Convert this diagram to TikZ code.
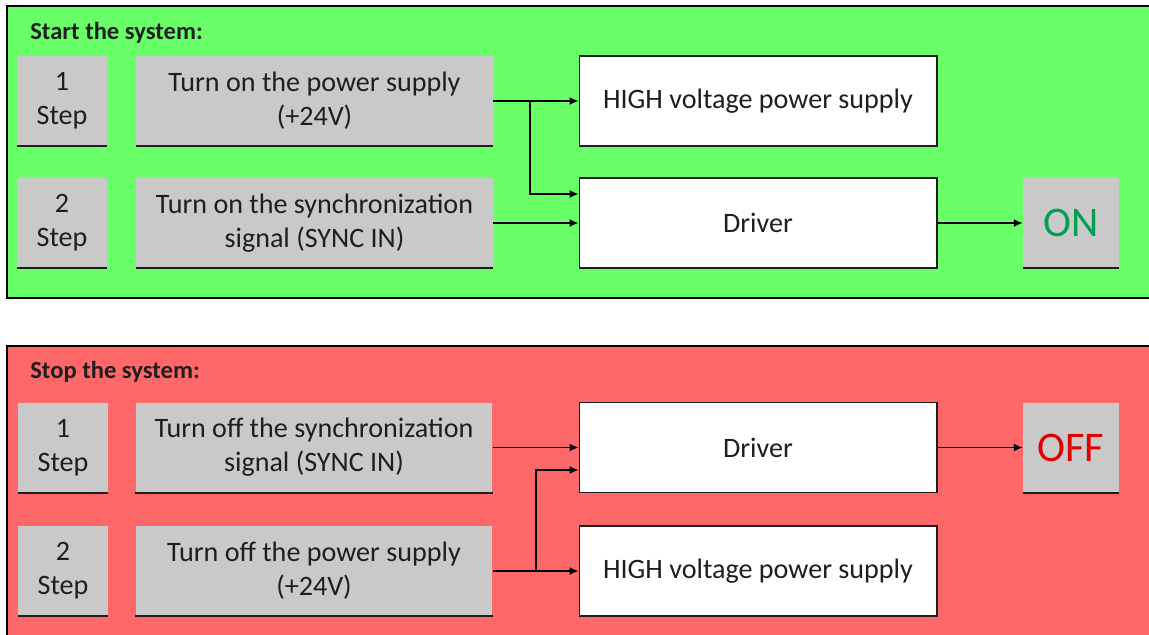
\documentclass[tikz,border=0pt]{standalone}
\usepackage{fontspec}
\setmainfont{Carlito}
\usepackage{tikz}
\usetikzlibrary{calc}
\usetikzlibrary{arrows}
\usetikzlibrary{arrows.meta}
\usetikzlibrary{positioning}
\tikzset{>=latex}
\definecolor{startgreen}{RGB}{104,255,104}
\definecolor{stopred}{RGB}{255,104,104}
\definecolor{boxgray}{RGB}{201,201,201}
\definecolor{ongreen}{RGB}{0,160,80}
\definecolor{offred}{RGB}{224,0,0}
\definecolor{ink}{RGB}{30,30,30}
\tikzstyle{panel} = [draw=black, line width=1.2pt]
\tikzstyle{title} = [draw=none, inner sep=0, anchor=base west, text=ink, font=\fontsize{14}{17}\selectfont\bfseries]
\tikzstyle{stepbox} = [fill=boxgray, inner sep=0, minimum width=1.8cm, minimum height=1.8cm, align=center, text=ink, font=\fontsize{16}{19.4}\selectfont, append after command={(\tikzlastnode.south west) edge[draw=ink, line width=1.2pt] (\tikzlastnode.south east)}]
\tikzstyle{taskbox} = [stepbox, minimum width=7.14cm]
\tikzstyle{statebox} = [stepbox, minimum width=1.92cm, font=\fontsize{24}{28}\selectfont]
\tikzstyle{unitbox} = [draw=ink, line width=0.6pt, fill=white, inner sep=0, minimum width=7.16cm, minimum height=1.8cm, text=ink, font=\fontsize{16}{19.4}\selectfont]
\tikzstyle{wire} = [-{Latex[length=5pt, width=4.5pt]}, draw=black, line width=0.8pt]

\begin{document}
\begin{tikzpicture}[x=0.02cm, y=-0.02cm]
\clip (0, 0) rectangle (1149, 635);
% start panel
\draw [panel, fill=startgreen] (7, 6) rectangle (1170, 298);
\node [title] (ttl1) at (30, 40) {Start the system:};
\node [stepbox] (s1) at (62, 101) {1\\Step};
\node [taskbox] (t1) at (314.5, 101) {Turn on the power supply\\(+24V)};
\node [stepbox] (s2) at (62, 223) {2\\Step};
\node [taskbox] (t2) at (314.5, 223) {Turn on the synchronization\\signal (SYNC IN)};
\node [unitbox] (hv1) at (758, 101) {HIGH voltage power supply};
\node [unitbox] (drv1) at (758, 223) {Driver};
\node [statebox, text=ongreen] (on) at (1071, 223) {ON};
\coordinate (j1) at (530, 101);
\draw [wire] (t1) to (hv1);
\draw [wire] (j1) |- ([yshift=0.58cm]drv1.west);
\draw [wire] (t2) to (drv1);
\draw [wire] (drv1) to (on);
% stop panel
\draw [panel, fill=stopred] (7, 346) rectangle (1170, 660);
\node [title] (ttl2) at (30, 378) {Stop the system:};
\node [stepbox] (s3) at (63, 447.5) {1\\Step};
\node [taskbox] (t3) at (314, 447.5) {Turn off the synchronization\\signal (SYNC IN)};
\node [stepbox] (s4) at (63, 571) {2\\Step};
\node [taskbox] (t4) at (314, 571) {Turn off the power supply\\(+24V)};
\node [unitbox] (drv2) at (758, 447.5) {Driver};
\node [unitbox] (hv2) at (758, 571) {HIGH voltage power supply};
\node [statebox, text=offred] (off) at (1071, 447.5) {OFF};
\coordinate (j2) at (536, 571);
\draw [wire] (t3) to (drv2);
\draw [wire] (t4) to (hv2);
\draw [wire] (j2) |- ([yshift=-0.45cm]drv2.west);
\draw [wire] (drv2) to (off);
\end{tikzpicture}
\end{document}
